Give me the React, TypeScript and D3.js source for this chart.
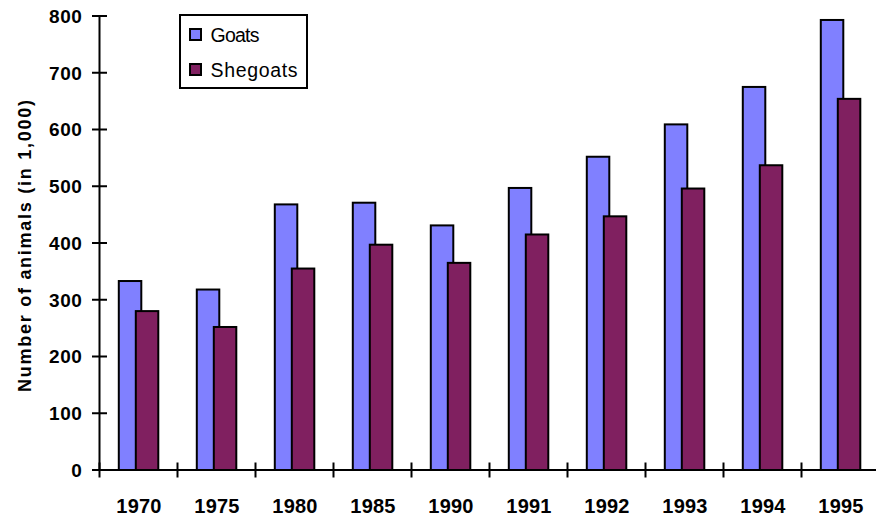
import React from "react";
import * as d3 from "d3";

const years = ["1970", "1975", "1980", "1985", "1990", "1991", "1992", "1993", "1994", "1995"];
const goats = [333, 318, 468, 471, 431, 497, 552, 609, 675, 793];
const shegoats = [280, 252, 355, 397, 365, 415, 447, 496, 537, 654];
const yTicks = [0, 100, 200, 300, 400, 500, 600, 700, 800];
const seriesNames = ["Goats", "Shegoats"];
const colors = ["#8080FF", "#802060"];

const W = 876;
const H = 517;
const left = 99.5;
const bottom = 470;
const top = 16;
const font = "Arial, 'Liberation Sans', sans-serif";

export default function App() {
  const x = d3.scaleBand<string>().domain(years).range([left, left + 78 * years.length]).padding(0);
  const y = d3.scaleLinear().domain([0, 800]).range([bottom, top]);
  const bw = x.bandwidth();
  const barW = 22.5;
  const offsets = [19.3, 36.3];
  const series = [goats, shegoats];

  return (
    <svg width={W} height={H} style={{ position: "absolute", left: 0, top: 0, background: "#fff" }}>
      {series.map((vals, si) =>
        vals.map((v, i) => (
          <rect
            key={`${si}-${i}`}
            x={(x(years[i]) as number) + offsets[si]}
            y={y(v)}
            width={barW}
            height={y(0) - y(v)}
            fill={colors[si]}
            stroke="#000"
            strokeWidth={2}
          />
        ))
      )}
      <line x1={left} x2={left} y1={top} y2={bottom} stroke="#000" strokeWidth={2} />
      {yTicks.map((t) => (
        <g key={t}>
          <line x1={left - 7.5} x2={left + 7.5} y1={y(t)} y2={y(t)} stroke="#000" strokeWidth={2} />
          <text
            x={82.5}
            y={y(t)}
            dy="0.36em"
            textAnchor="end"
            fontFamily={font}
            fontWeight="bold"
            fontSize={19}
            letterSpacing={0.6}
            fill="#000"
          >
            {t}
          </text>
        </g>
      ))}
      <line x1={left} x2={W} y1={bottom} y2={bottom} stroke="#000" strokeWidth={2} />
      {years.map((yr) => (
        <line
          key={"t" + yr}
          x1={x(yr) as number}
          x2={x(yr) as number}
          y1={bottom - 7.5}
          y2={bottom + 7.5}
          stroke="#000"
          strokeWidth={2}
        />
      ))}
      {years.map((yr) => (
        <text
          key={"l" + yr}
          x={(x(yr) as number) + bw / 2 + 0.5}
          y={513}
          textAnchor="middle"
          fontFamily={font}
          fontWeight="bold"
          fontSize={20}
          letterSpacing={0.2}
          fill="#000"
        >
          {yr}
        </text>
      ))}
      <text
        transform="translate(31,246) rotate(-90)"
        textAnchor="middle"
        fontFamily={font}
        fontWeight="bold"
        fontSize={18}
        textLength={292}
        lengthAdjust="spacing"
        fill="#000"
      >
        Number of animals (in 1,000)
      </text>
      <rect x={180} y={15} width={127} height={73} fill="#fff" stroke="#000" strokeWidth={2} />
      {seriesNames.map((n, i) => (
        <g key={n}>
          <rect x={190} y={29 + i * 35} width={11} height={11} fill={colors[i]} stroke="#000" strokeWidth={2} />
          <text
            x={210.5}
            y={42 + i * 35}
            fontFamily={font}
            fontSize={19.5}
            textLength={i === 0 ? 49 : 87}
            lengthAdjust="spacing"
            fill="#000"
          >
            {n}
          </text>
        </g>
      ))}
    </svg>
  );
}
